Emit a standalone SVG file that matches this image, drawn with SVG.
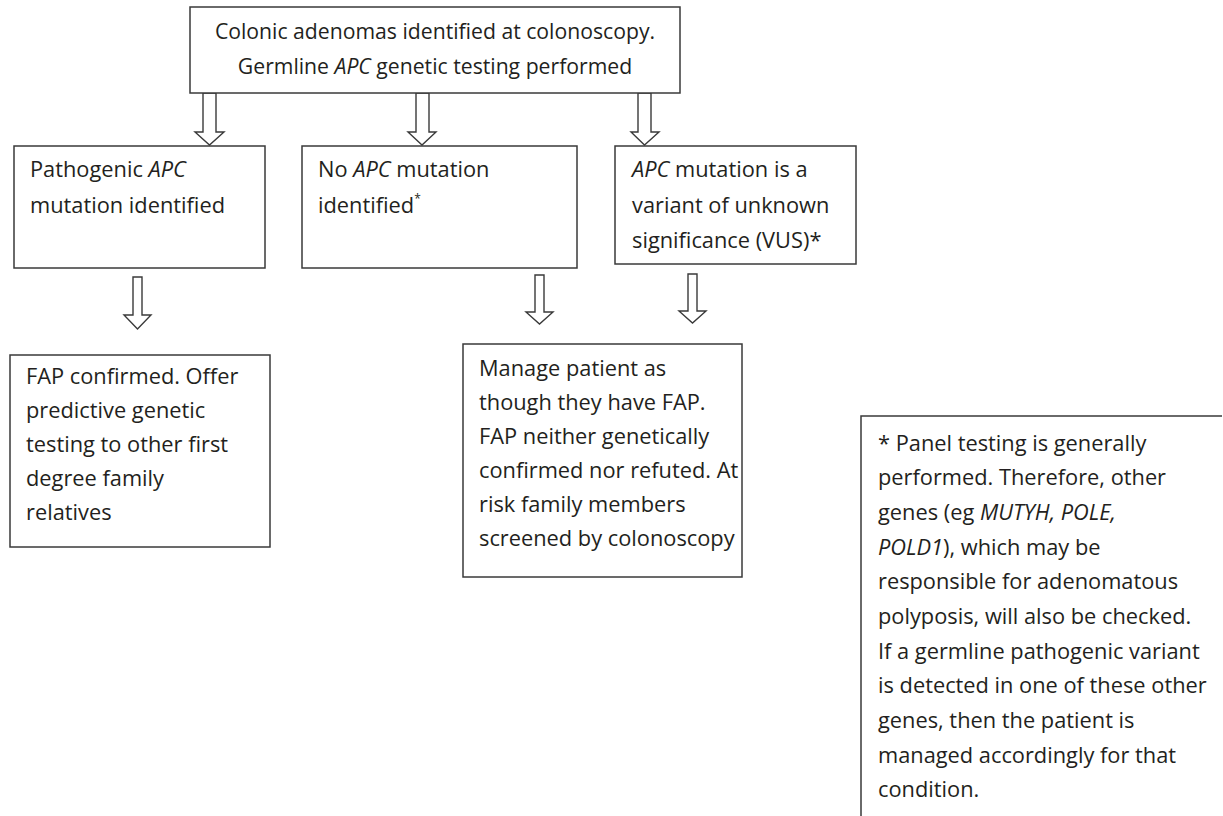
<svg xmlns="http://www.w3.org/2000/svg" width="1223" height="816" viewBox="0 0 1223 816">
<style>
.bg{fill:#ffffff}
.box{fill:#ffffff;stroke:#3a3a3a;stroke-width:1.5}
.arr{fill:#ffffff;stroke:#3a3a3a;stroke-width:1.4;stroke-linejoin:miter}
text{font-family:"Open Sans","Noto Sans","Liberation Sans",sans-serif;font-size:21.8px;fill:#231f20}
.t{font-size:21.2px}
.c{text-anchor:middle}
.i{font-style:italic}
.sup{font-size:12px}
</style>
<rect class="bg" x="0" y="0" width="1223" height="816"/>
<g id="connectors">
<polygon class="arr" points="203,93 216,93 216,132 224,132 209.5,145 195,132 203,132"/>
<polygon class="arr" points="416,93 429,93 429,132 436,132 422,145 408,132 416,132"/>
<polygon class="arr" points="638,93 651,93 651,132 659,132 644.5,145 631,132 638,132"/>
<polygon class="arr" points="133,277 142,277 142,315 151,315 137.5,329 124,315 133,315"/>
<polygon class="arr" points="535,275 544,275 544,312 553,312 539.5,324 526,312 535,312"/>
<polygon class="arr" points="688,274 697,274 697,311 706,311 692.5,323 679,311 688,311"/>
</g>
<g id="n-top">
<rect class="box" x="190" y="7" width="490" height="86"/>
<text class="c t" x="435" y="39">Colonic adenomas identified at colonoscopy.</text>
<text class="c t" x="435" y="74">Germline <tspan class="i">APC</tspan> genetic testing performed</text>
</g>
<g id="n-pathogenic">
<rect class="box" x="14" y="146" width="251" height="122"/>
<text x="30" y="177">Pathogenic <tspan class="i">APC</tspan></text>
<text x="30" y="213">mutation identified</text>
</g>
<g id="n-nomutation">
<rect class="box" x="302" y="146" width="275" height="122"/>
<text x="318" y="177">No <tspan class="i">APC</tspan> mutation</text>
<text x="318" y="213">identified<tspan class="sup" dy="-10">*</tspan></text>
</g>
<g id="n-vus">
<rect class="box" x="615" y="146" width="241" height="118"/>
<text x="632" y="177"><tspan class="i">APC</tspan> mutation is a</text>
<text x="632" y="213">variant of unknown</text>
<text x="632" y="248">significance (VUS)*</text>
</g>
<g id="n-fap">
<rect class="box" x="10" y="355" width="260" height="192"/>
<text x="26" y="384">FAP confirmed. Offer</text>
<text x="26" y="418">predictive genetic</text>
<text x="26" y="452">testing to other first</text>
<text x="26" y="486">degree family</text>
<text x="26" y="520">relatives</text>
</g>
<g id="n-manage">
<rect class="box" x="463" y="344" width="279" height="233"/>
<text x="479" y="376">Manage patient as</text>
<text x="479" y="410">though they have FAP.</text>
<text x="479" y="444">FAP neither genetically</text>
<text x="479" y="478">confirmed nor refuted. At</text>
<text x="479" y="512">risk family members</text>
<text x="479" y="546">screened by colonoscopy</text>
</g>
<g id="n-footnote">
<path d="M861,816 V416 H1222" fill="none" stroke="#3a3a3a" stroke-width="1.5"/>
<text x="878" y="451">* Panel testing is generally</text>
<text x="878" y="485">performed. Therefore, other</text>
<text x="878" y="520">genes (eg <tspan class="i">MUTYH, POLE,</tspan></text>
<text x="878" y="555"><tspan class="i">POLD1</tspan>), which may be</text>
<text x="878" y="589">responsible for adenomatous</text>
<text x="878" y="624">polyposis, will also be checked.</text>
<text x="878" y="659">If a germline pathogenic variant</text>
<text x="878" y="693">is detected in one of these other</text>
<text x="878" y="728">genes, then the patient is</text>
<text x="878" y="763">managed accordingly for that</text>
<text x="878" y="797">condition.</text>
</g>
</svg>
